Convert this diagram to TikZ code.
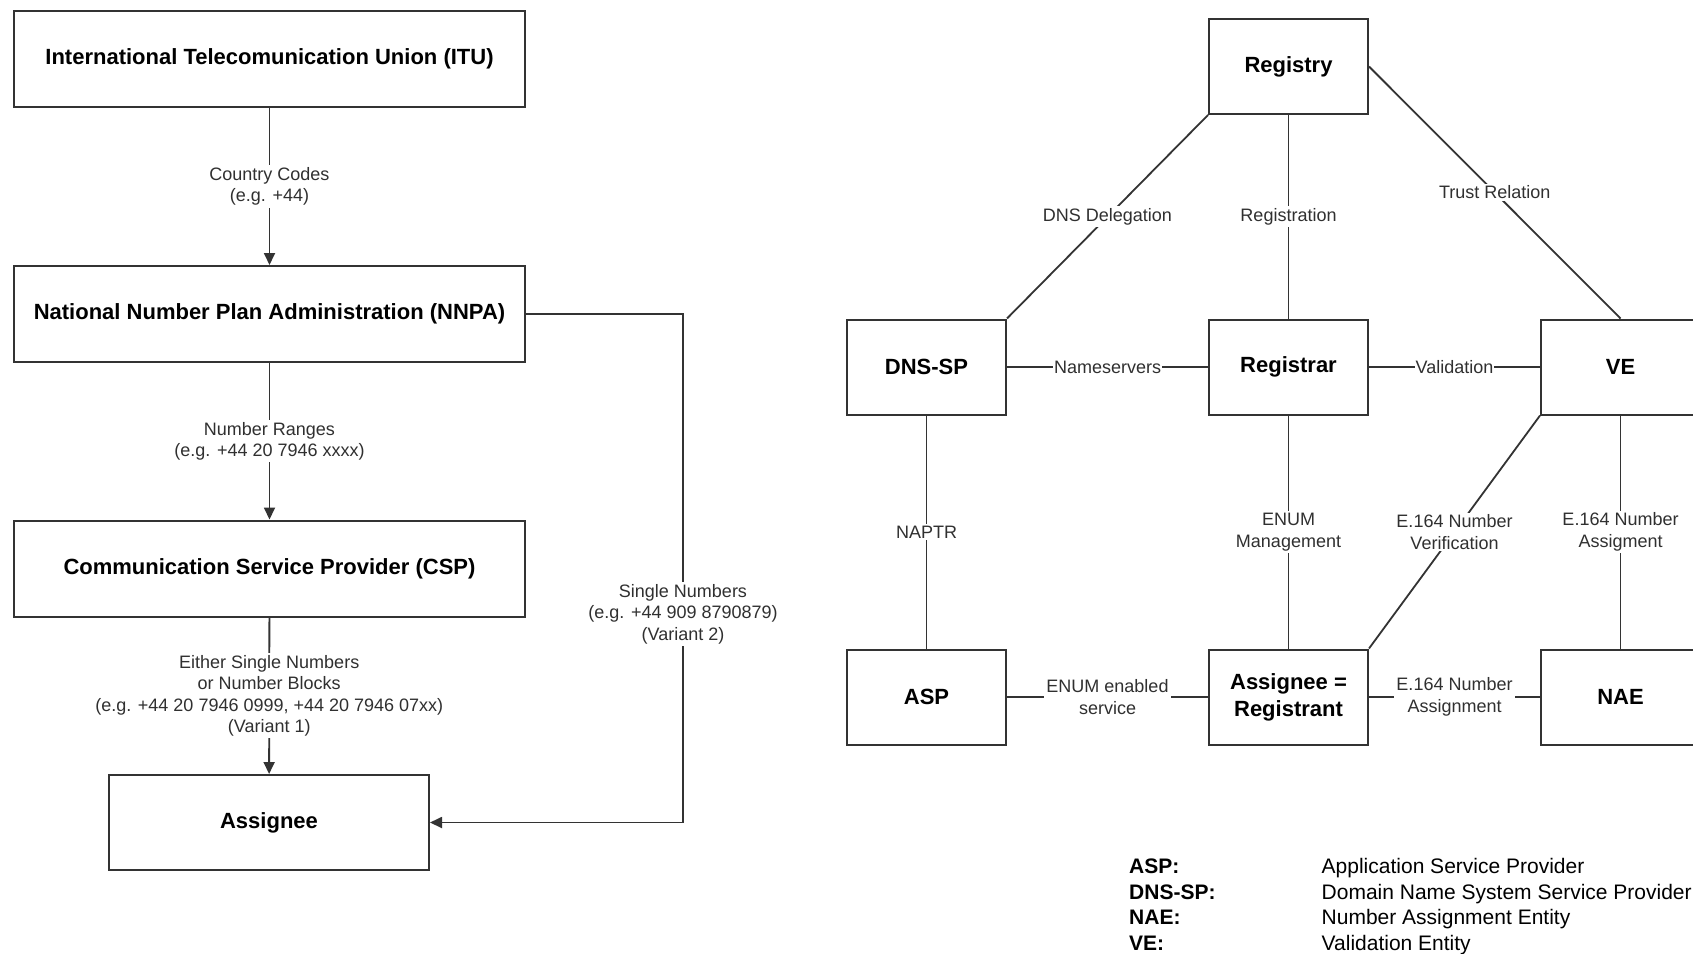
\documentclass[tikz,border=0pt]{standalone}
\usepackage{fontspec}
\setmainfont{Liberation Sans}
\usepackage{tikz}
\usetikzlibrary{arrows.meta, positioning}
\definecolor{LineGray}{HTML}{333333}
\definecolor{LabelGray}{HTML}{303030}
\tikzset{
  entitybox/.style={rectangle, draw=LineGray, line width=2pt, fill=white, minimum width=159pt, minimum height=95pt, font=\fontsize{22}{27}\selectfont\bfseries, align=center, inner sep=0pt},
  widebox/.style={entitybox, minimum width=511pt, minimum height=96pt},
  linklabel/.style={fill=white, text=LabelGray, font=\fontsize{18}{21.5}\selectfont, align=center, inner sep=2pt},
  relline/.style={draw=LineGray, line width=1.8pt},
  arrow/.style={relline, -{Triangle[length=12pt, width=11pt]}},
  legendkey/.style={anchor=base west, font=\fontsize{21}{25}\selectfont\bfseries, inner sep=0pt},
  legendtext/.style={anchor=base west, font=\fontsize{21}{25}\selectfont, inner sep=0pt}
}

\begin{document}
\begin{tikzpicture}[x=1pt, y=-1pt]
  \fill[white] (0,0) rectangle (1693,953);
  \useasboundingbox (0,0) rectangle (1693,953);

  % Number assignment chain
  \node[widebox] (itu) at (269.5,59) {International Telecomunication Union (ITU)};
  \node[widebox] (nnpa) at (269.5,314) {National Number Plan Administration (NNPA)};
  \node[widebox] (csp) at (269.5,568.5) {Communication Service Provider (CSP)};
  \node[entitybox, minimum width=320pt] (assignee) at (269,822.5) {Assignee};
  \coordinate (turn) at (683,822.5);

  \draw[arrow] (itu) -- node[linklabel] {Country Codes\\(e.g. +44)} (nnpa);
  \draw[arrow] (nnpa) -- node[linklabel] {Number Ranges\\(e.g. +44 20 7946 xxxx)} (csp);
  \draw[arrow] (csp) -- node[linklabel] {Either Single Numbers\\or Number Blocks\\(e.g. +44 20 7946 0999, +44 20 7946 07xx)\\(Variant 1)} (assignee);
  \draw[arrow] (nnpa.east) -| node[linklabel, pos=0.795] {Single Numbers\\(e.g. +44 909 8790879)\\(Variant 2)} (turn) -- (assignee.east);

  % ENUM roles
  \node[entitybox] (registry) at (1288.5,66.5) {Registry};
  \node[entitybox] (dnssp) at (926.5,367) {DNS-SP};
  \node[entitybox] (registrar) at (1288.5,367) {Registrar};
  \node[entitybox] (ve) at (1620.5,367) {VE};
  \node[entitybox] (asp) at (926.5,697) {ASP};
  \node[entitybox] (registrant) at (1288.5,697) {Assignee =\\Registrant};
  \node[entitybox] (nae) at (1620.5,697) {NAE};

  \draw[relline] (registry.south west) -- node[linklabel] {DNS Delegation} (dnssp.north east);
  \draw[relline] (registry) -- node[linklabel] {Registration} (registrar);
  \draw[relline] (registry.east) -- node[linklabel] {Trust Relation} (ve.north);
  \draw[relline] (dnssp) -- node[linklabel, inner sep=1pt] {Nameservers} (registrar);
  \draw[relline] (registrar) -- node[linklabel, inner sep=1pt] {Validation} (ve);
  \draw[relline] (dnssp) -- node[linklabel] {NAPTR} (asp);
  \draw[relline] (registrar) -- node[linklabel] {ENUM\\Management} (registrant);
  \draw[relline] (ve.south west) -- node[linklabel] {E.164 Number\\Verification} (registrant.north east);
  \draw[relline] (ve) -- node[linklabel] {E.164 Number\\Assigment} (nae);
  \draw[relline] (asp) -- node[linklabel] {ENUM enabled\\service} (registrant);
  \draw[relline] (registrant) -- node[linklabel] {E.164 Number\\Assignment} (nae);

  % Legend
  \node[legendkey] (kasp) at (1129,873.5) {ASP:};
  \node[legendkey] (kdns) at (1129,899.5) {DNS-SP:};
  \node[legendkey] (knae) at (1129,924.5) {NAE:};
  \node[legendkey] (kve) at (1129,950.5) {VE:};
  \node[legendtext] (tasp) at (1321.5,873.5) {Application Service Provider};
  \node[legendtext] (tdns) at (1321.5,899.5) {Domain Name System Service Provider};
  \node[legendtext] (tnae) at (1321.5,924.5) {Number Assignment Entity};
  \node[legendtext] (tve) at (1321.5,950.5) {Validation Entity};
\end{tikzpicture}
\end{document}
